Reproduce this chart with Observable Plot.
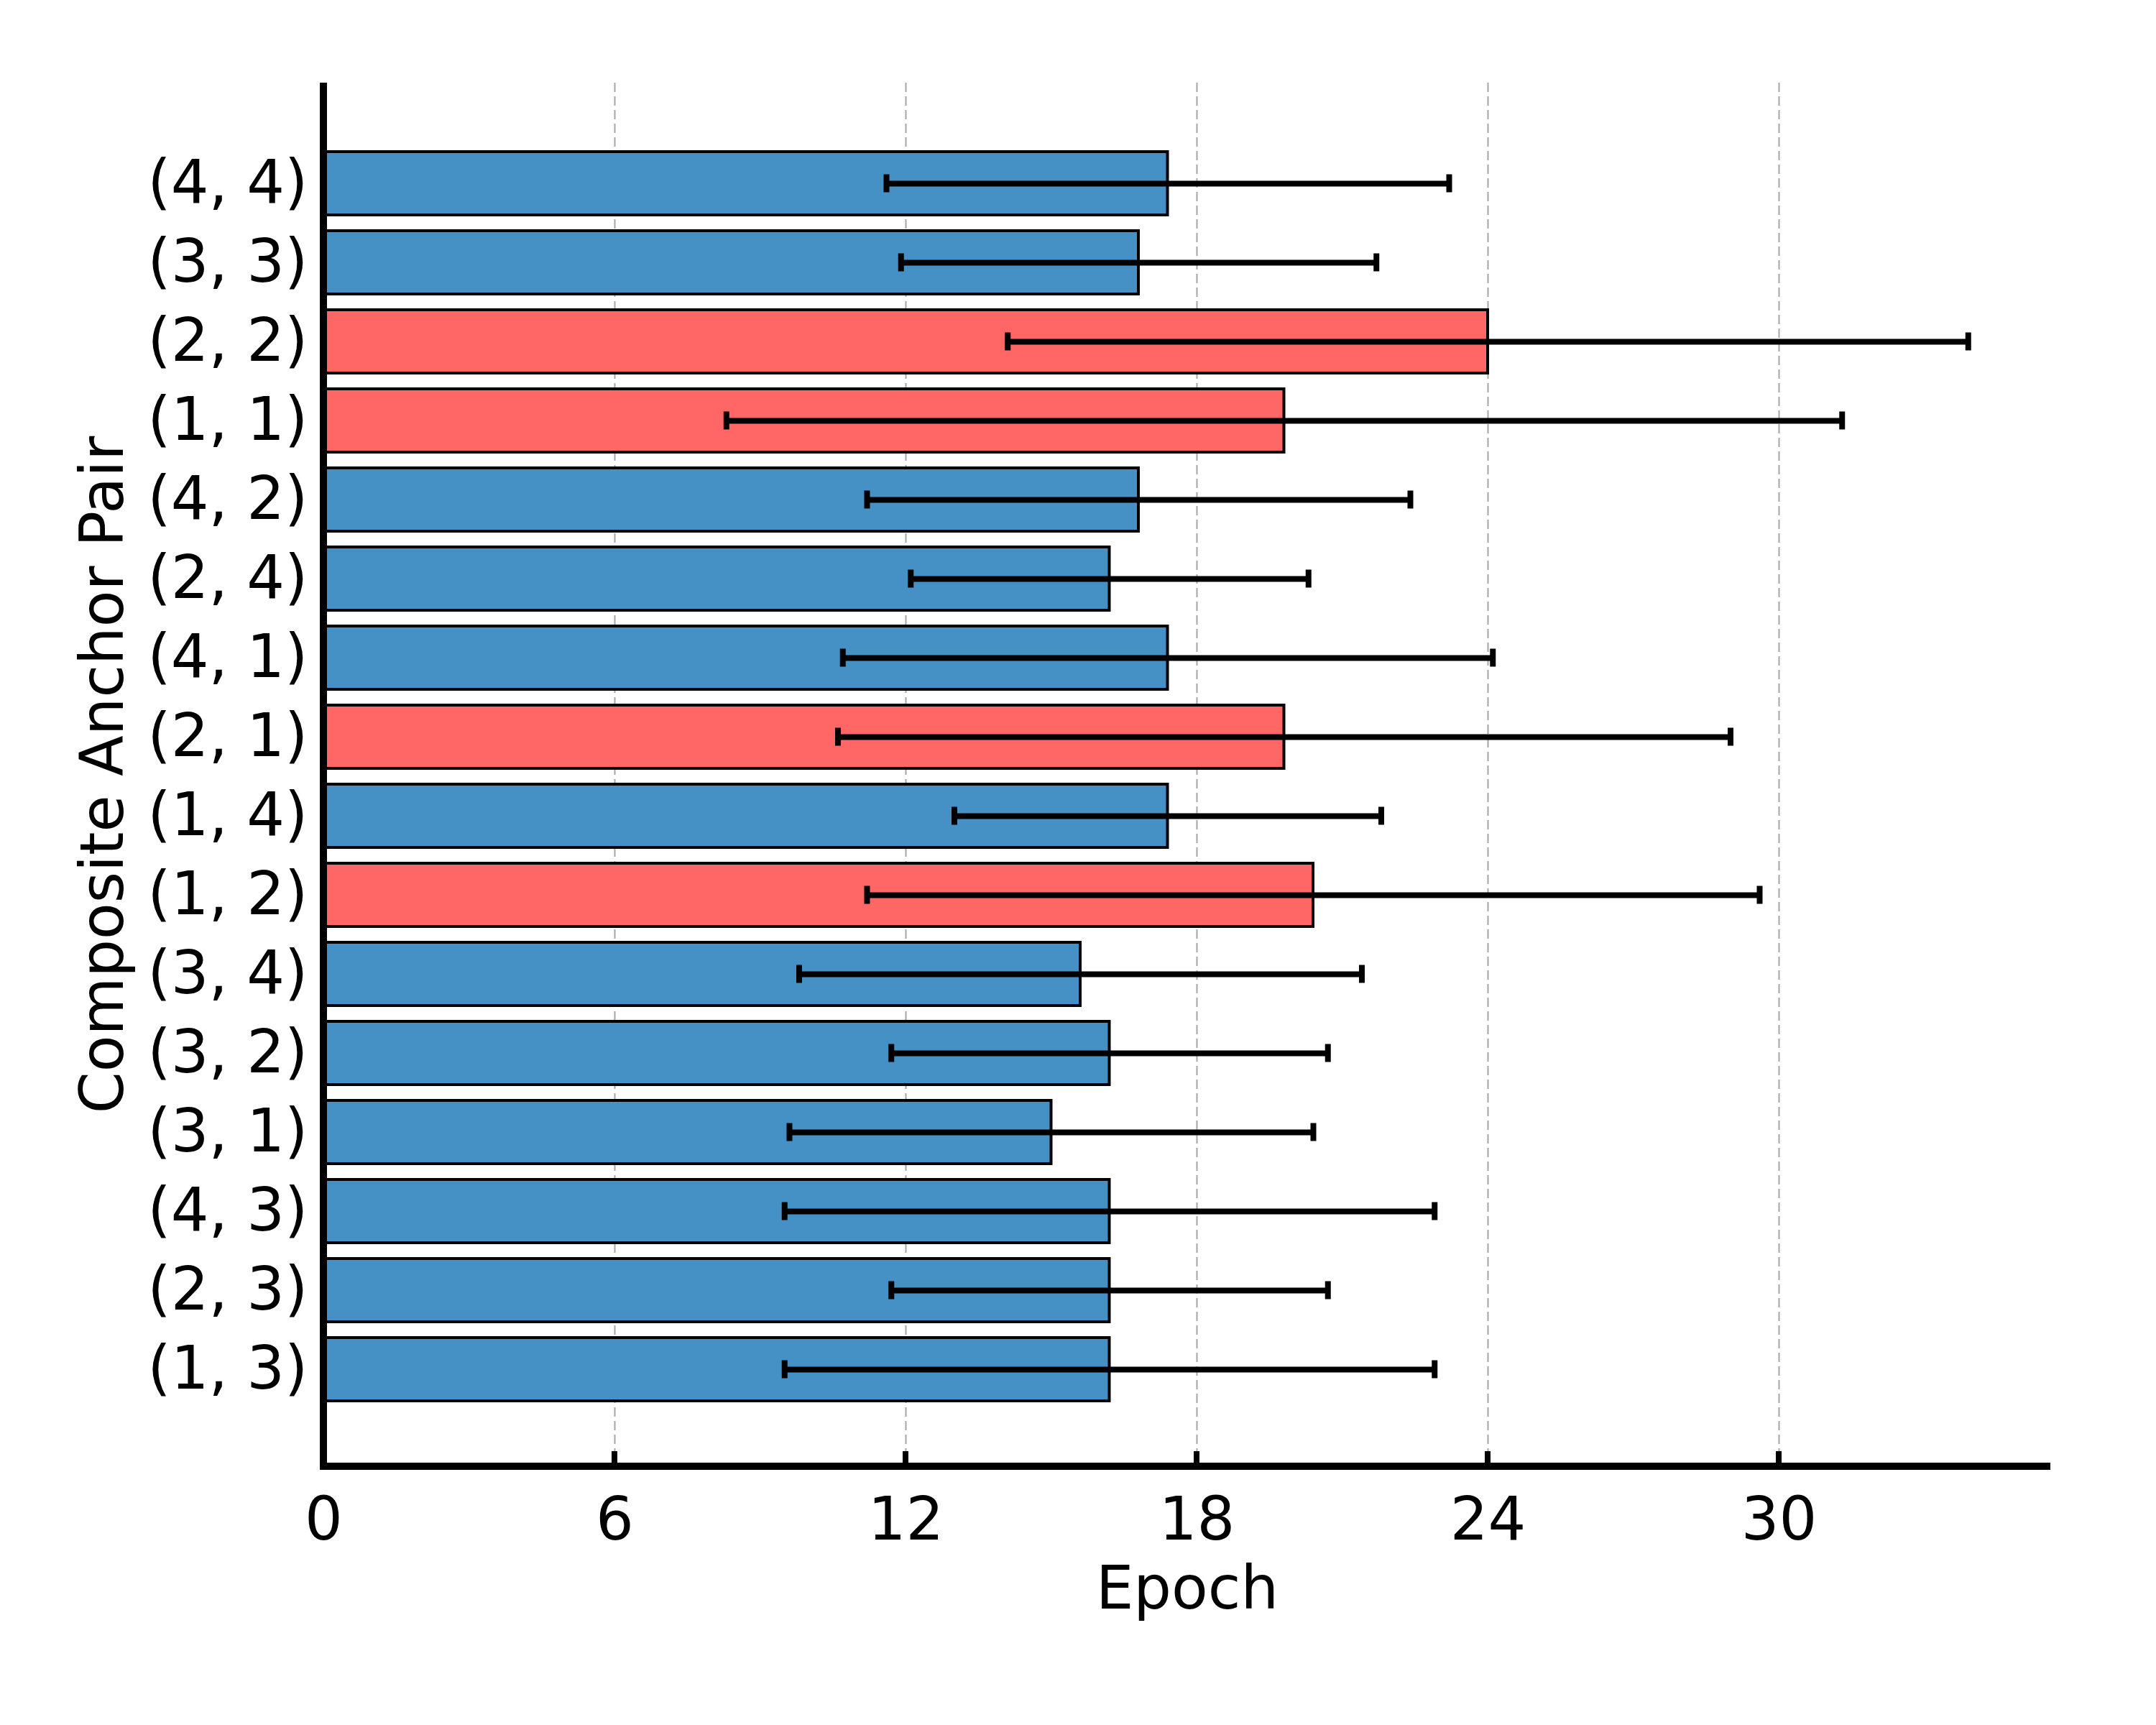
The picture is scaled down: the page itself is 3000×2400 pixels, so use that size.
<!DOCTYPE html>
<html>
<head>
<meta charset="utf-8">
<script src="https://cdn.jsdelivr.net/npm/d3@7"></script>
<script src="https://cdn.jsdelivr.net/npm/@observablehq/plot@0.6"></script>
<style>
  html, body { margin: 0; padding: 0; background: white; }
  #chart { width: 3000px; height: 2400px; }
</style>
</head>
<body>
<div id="chart"></div>
<script>
// ---- data (top to bottom as in the chart) ----
const categories = ["(4, 4)", "(3, 3)", "(2, 2)", "(1, 1)", "(4, 2)", "(2, 4)", "(4, 1)", "(2, 1)",
                    "(1, 4)", "(1, 2)", "(3, 4)", "(3, 2)", "(3, 1)", "(4, 3)", "(2, 3)", "(1, 3)"];
const means  = [17.4, 16.8, 24.0, 19.8, 16.8, 16.2, 17.4, 19.8, 17.4, 20.4, 15.6, 16.2, 15.0, 16.2, 16.2, 16.2];
const errors = [5.8, 4.9, 9.9, 11.5, 5.6, 4.1, 6.7, 9.2, 4.4, 9.2, 5.8, 4.5, 5.4, 6.7, 4.5, 6.7];
const groups = ["base", "base", "highlight", "highlight", "base", "base", "base", "highlight",
                "base", "highlight", "base", "base", "base", "base", "base", "base"];
const xTicks = [0, 6, 12, 18, 24, 30];
const gridTicks = [6, 12, 18, 24, 30];
const xLabel = "Epoch";
const yLabel = "Composite Anchor Pair";

const rows = categories.map((c, i) => ({pair: c, mean: means[i], err: errors[i], group: groups[i]}));

const FS = 83;

function spines(index, scales, values, dim) {
  const g = d3.create("svg:g");
  const left = dim.marginLeft, right = dim.width - dim.marginRight;
  const top = dim.marginTop, bottom = dim.height - dim.marginBottom;
  // inward x ticks
  for (const t of xTicks) {
    const x = scales.x(t);
    g.append("line").attr("x1", x).attr("x2", x).attr("y1", bottom - 21).attr("y2", bottom)
      .attr("stroke", "black").attr("stroke-width", 8);
  }
  g.append("line").attr("x1", left).attr("x2", left).attr("y1", top).attr("y2", bottom + 5)
    .attr("stroke", "black").attr("stroke-width", 10);
  g.append("line").attr("x1", left - 5).attr("x2", right).attr("y1", bottom).attr("y2", bottom)
    .attr("stroke", "black").attr("stroke-width", 10);
  return g.node();
}

const chart = Plot.plot({
  width: 3000,
  height: 2400,
  marginLeft: 450,
  marginRight: 147,
  marginTop: 115,
  marginBottom: 360,
  style: {fontFamily: "DejaVu Sans", fontSize: FS + "px", background: "white", color: "black"},
  x: {domain: [0, 35.6], label: null},
  y: {domain: categories, paddingInner: 0.2, paddingOuter: 0.815, align: 0.513, label: null},
  color: {domain: ["base", "highlight"], range: ["#4590c4", "#ff6666"]},
  marks: [
    Plot.ruleX(gridTicks, {stroke: "#a6a6a6", strokeWidth: 2, strokeDasharray: "13,6"}),
    Plot.barX(rows, {x: "mean", y: "pair", fill: "group", stroke: "black", strokeWidth: 4}),
    Plot.ruleY(rows, {y: "pair", x1: d => d.mean - d.err, x2: d => d.mean + d.err, stroke: "black", strokeWidth: 8}),
    Plot.tickX(rows, {y: "pair", x: d => d.mean - d.err, stroke: "black", strokeWidth: 8, insetTop: 31.5, insetBottom: 31.5}),
    Plot.tickX(rows, {y: "pair", x: d => d.mean + d.err, stroke: "black", strokeWidth: 8, insetTop: 31.5, insetBottom: 31.5}),
    Plot.axisX({ticks: xTicks, tickSize: 0, tickPadding: 43, fontSize: FS, label: null, tickFormat: d => String(d)}),
    Plot.axisY({tickSize: 0, tickPadding: 22, fontSize: FS, label: null}),
    spines,
    Plot.text([xLabel], {text: d => d, frameAnchor: "bottom", lineAnchor: "top", dy: 139, fontSize: FS, fill: "black"}),
    Plot.text([yLabel], {text: d => d, frameAnchor: "left", textAnchor: "middle", lineAnchor: "middle", dx: -306, rotate: -90, fontSize: FS, fill: "black"})
  ]
});
document.getElementById("chart").appendChild(chart);
</script>
</body>
</html>
